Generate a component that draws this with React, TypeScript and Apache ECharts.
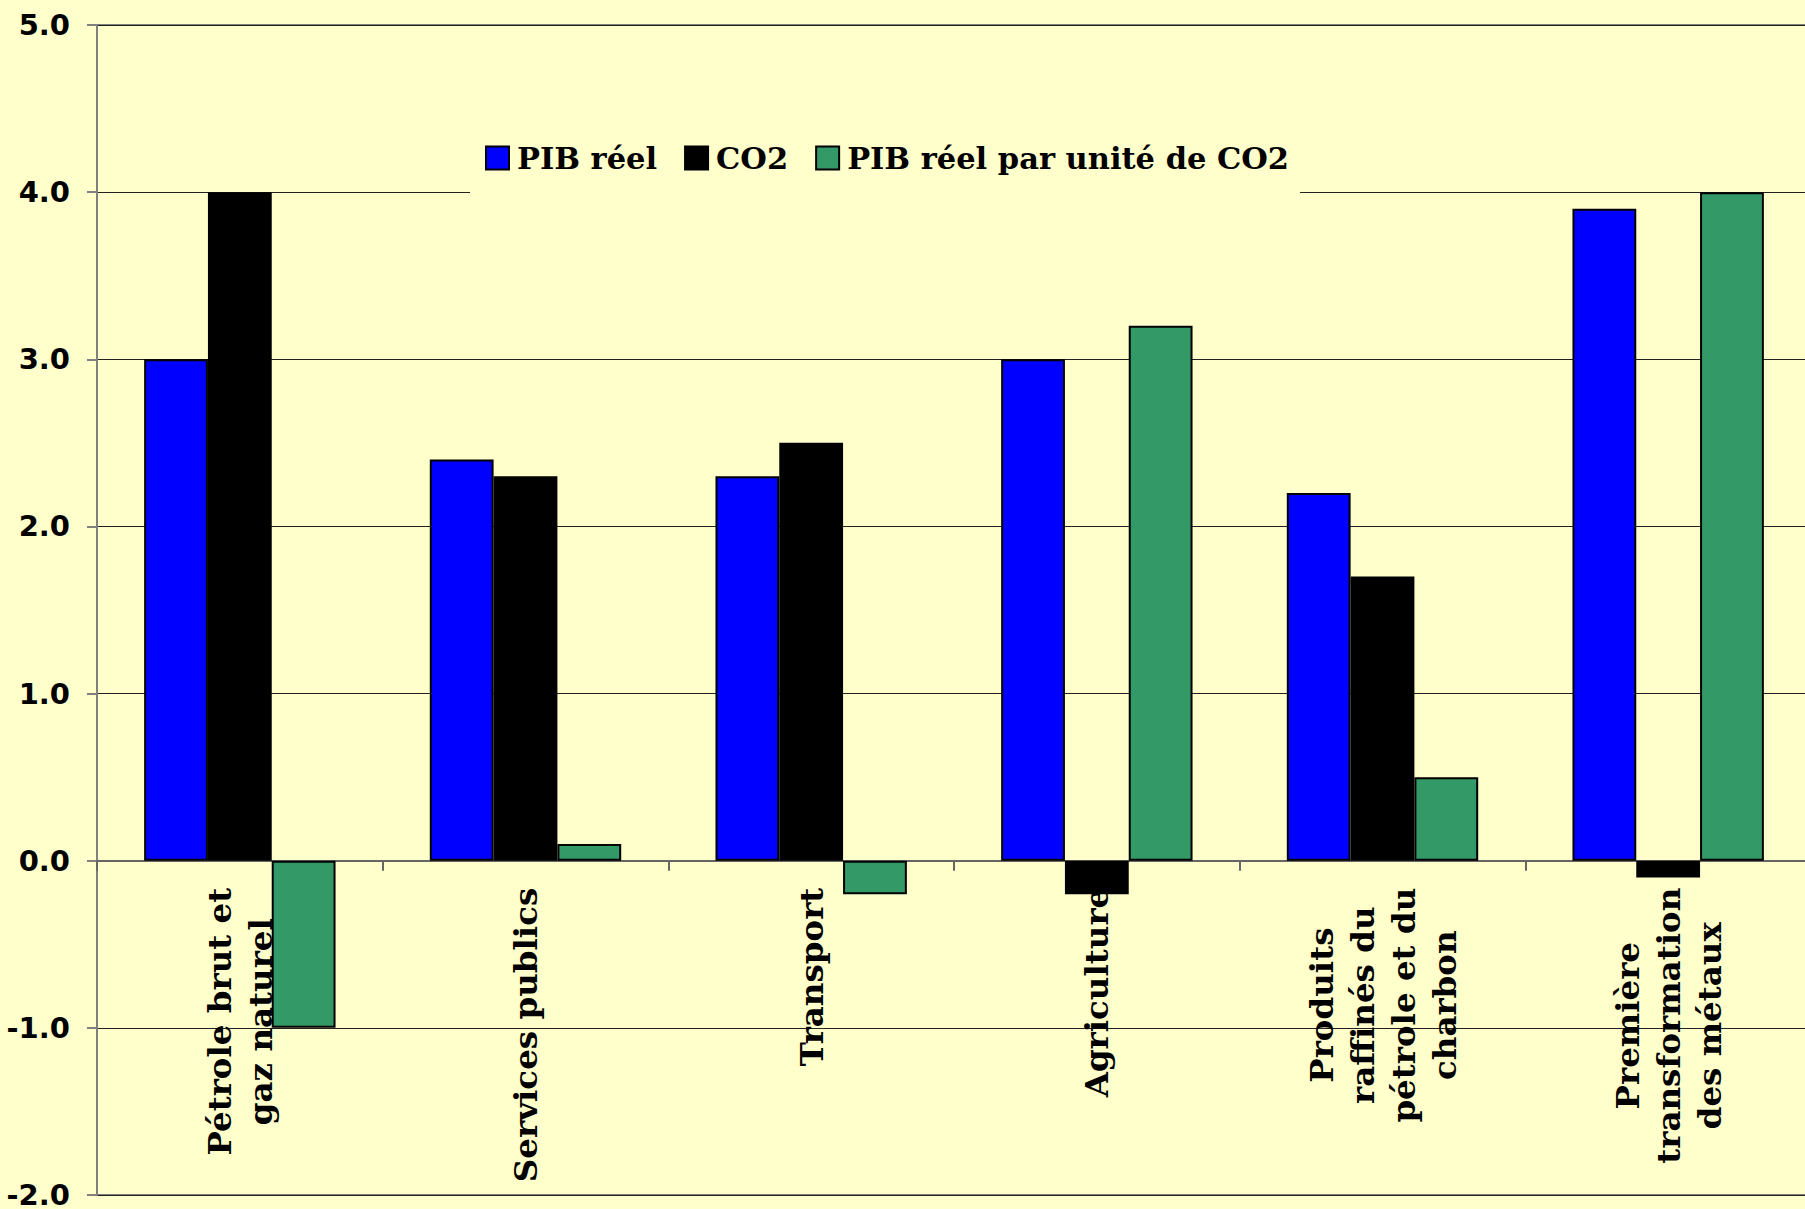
import React, { useEffect, useRef } from "react";
import * as echarts from "echarts";

const categories = [
  "Pétrole brut et\ngaz naturel",
  "Services publics",
  "Transport",
  "Agriculture",
  "Produits\nraffinés du\npétrole et du\ncharbon",
  "Première\ntransformation\ndes métaux",
];
const pibReel = [3.0, 2.4, 2.3, 3.0, 2.2, 3.9];
const co2 = [4.0, 2.3, 2.5, -0.2, 1.7, -0.1];
const pibParCo2 = [-1.0, 0.1, -0.2, 3.2, 0.5, 4.0];
const seriesNames = ["PIB réel", "CO2", "PIB réel par unité de CO2"];
const seriesColors = ["#0000FF", "#000000", "#339966"];
const yMin = -2;
const yMax = 5;

export default function App() {
  const ref = useRef<HTMLDivElement>(null);
  useEffect(() => {
    if (!ref.current) return;
    const chart = echarts.init(ref.current, undefined, { renderer: "svg" });
    const serifBold = {
      fontFamily: "'DejaVu Serif', serif",
      fontWeight: "bold" as const,
      color: "#000",
    };
    const gridTop = 25;
    const gridBottom = 14;
    const plotH = 1209 - gridTop - gridBottom;
    // move the category axis (line, ticks, labels) up to the zero line
    const zeroOffset = -(plotH * (0 - yMin)) / (yMax - yMin);
    const data = [pibReel, co2, pibParCo2];
    chart.setOption({
      animation: false,
      backgroundColor: "#FFFFCC",
      grid: {
        left: 97,
        right: -6,
        top: gridTop,
        bottom: gridBottom,
        containLabel: false,
        outerBoundsMode: "none",
        show: true,
        borderColor: "#808080",
        borderWidth: 2,
        backgroundColor: "transparent",
      },
      legend: {
        data: seriesNames,
        left: 470,
        top: 119,
        padding: [21, 11, 21, 15],
        backgroundColor: "#FFFFCC",
        itemWidth: 23,
        itemHeight: 23,
        itemGap: 27,
        icon: "rect",
        textStyle: {
          ...serifBold,
          fontSize: 30.5,
          lineHeight: 36,
          padding: [0, 0, 0, 3],
        },
        z: 10,
      },
      xAxis: {
        type: "category",
        data: categories,
        position: "bottom",
        offset: zeroOffset,
        axisLine: { show: true, onZero: false, lineStyle: { color: "#666666", width: 2 } },
        axisTick: { show: true, inside: false, length: 10, lineStyle: { color: "#666666", width: 2 } },
        splitLine: { show: false },
        axisLabel: {
          interval: 0,
          rotate: 90,
          margin: 27,
          ...serifBold,
          fontSize: 32.5,
          lineHeight: 41,
          formatter: (v: string) =>
            v.split("\n").map((l) => `{c|${l}}`).join("\n"),
          rich: {
            c: {
              align: "center",
              ...serifBold,
              fontSize: 32.5,
              lineHeight: 41,
            },
          },
        },
      },
      yAxis: {
        type: "value",
        min: yMin,
        max: yMax,
        interval: 1,
        axisLine: { show: true, lineStyle: { color: "#808080", width: 2 } },
        axisTick: { show: true, inside: false, length: 10, lineStyle: { color: "#808080", width: 2 } },
        splitLine: { show: true, lineStyle: { color: "#222222", width: 1 } },
        axisLabel: {
          margin: 27,
          fontFamily: "'DejaVu Sans', sans-serif",
          fontWeight: "bold",
          fontSize: 29,
          color: "#000",
          formatter: (v: number) => v.toFixed(1),
        },
      },
      series: seriesNames.map((name, i) => ({
        name,
        type: "bar",
        data: data[i],
        barGap: "0%",
        barCategoryGap: "33%",
        itemStyle: {
          color: seriesColors[i],
          borderColor: "#000",
          borderWidth: 2,
        },
      })),
    });
    return () => chart.dispose();
  }, []);
  return (
    <div
      ref={ref}
      style={{ position: "fixed", left: 0, top: 0, width: 1805, height: 1209 }}
    />
  );
}
